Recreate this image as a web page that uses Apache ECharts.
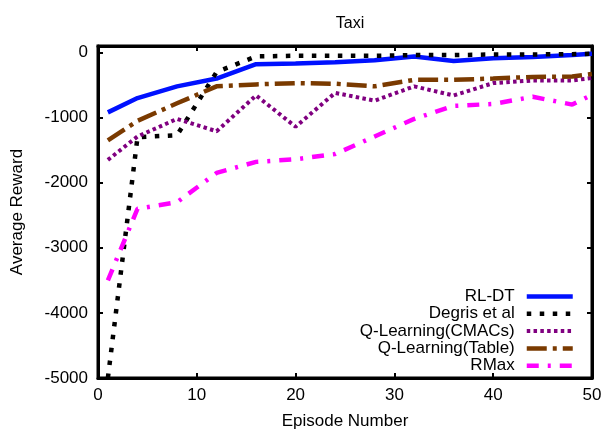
<!DOCTYPE html>
<html>
<head>
<meta charset="utf-8">
<script src="https://cdn.jsdelivr.net/npm/echarts@6/dist/echarts.min.js"></script>
<style>
  html, body { margin: 0; padding: 0; background: #fff; }
  #chart { width: 602px; height: 430px; }
</style>
</head>
<body>
<div id="chart"></div>
<script>
// episode numbers where each run was sampled
var episodes = [1, 4, 8, 12, 16, 20, 24, 28, 32, 36, 40, 44, 48, 50];

var rlDT      = [-920, -700, -520, -400, -180, -170, -150, -120, -60, -130, -90, -70, -40, -20];
var degris    = [-5000, -1300, -1270, -300, -60, -50, -50, -50, -40, -40, -30, -30, -25, -20];
var qCMACs    = [-1650, -1290, -1020, -1210, -660, -1140, -620, -740, -520, -660, -470, -430, -430, -390];
var qTable    = [-1350, -1050, -780, -520, -490, -470, -480, -520, -420, -420, -400, -375, -370, -330];
var rMax      = [-3500, -2400, -2300, -1850, -1680, -1640, -1560, -1290, -1020, -820, -790, -680, -800, -650];

var seriesNames = ["RL-DT", "Degris et al", "Q-Learning(CMACs)", "Q-Learning(Table)", "RMax"];
var xTicks = [0, 10, 20, 30, 40, 50];
var yTicks = [-5000, -4000, -3000, -2000, -1000, 0];

var FONT = "Liberation Sans";

function pairs(ys) {
    return episodes.map(function (x, i) { return [x, ys[i]]; });
}

var chart = echarts.init(document.getElementById("chart"));

var axisCommon = {
    type: "value",
    axisLine: { show: true, onZero: false, lineStyle: { color: "#000", width: 3 } },
    axisTick: { show: true, inside: true, length: 5, lineStyle: { color: "#000", width: 2 } },
    splitLine: { show: false }
};

var option = {
    animation: false,
    backgroundColor: "#fff",
    title: {
        text: "Taxi",
        left: 345,
        top: 11,
        textAlign: "center",
        textStyle: { fontFamily: FONT, fontSize: 16, fontWeight: "normal", color: "#000" }
    },
    grid: {
        left: 98, right: 10, top: 46, bottom: 52,
        show: true, borderColor: "#000", borderWidth: 3,
        containLabel: false,
        outerBoundsMode: "none"
    },
    legend: {
        orient: "vertical",
        right: 22,
        top: 283,
        align: "right",
        itemWidth: 46,
        itemHeight: 10,
        itemGap: 0.3,
        itemStyle: { opacity: 0 },
        lineStyle: { width: "inherit" },
        textStyle: { fontFamily: FONT, fontSize: 17, color: "#000", padding: [0, 7, 0, 0] },
        data: seriesNames
    },
    xAxis: [
        Object.assign({}, axisCommon, {
            position: "bottom",
            min: xTicks[0], max: xTicks[xTicks.length - 1], interval: 10,
            name: "Episode Number",
            nameLocation: "middle",
            nameGap: 35,
            nameTextStyle: { fontFamily: FONT, fontSize: 17, color: "#000" },
            axisLabel: { fontFamily: FONT, fontSize: 17, color: "#000", margin: 9 }
        }),
        Object.assign({}, axisCommon, {
            position: "top",
            min: xTicks[0], max: xTicks[xTicks.length - 1], interval: 10,
            axisLabel: { show: false }
        })
    ],
    yAxis: [
        Object.assign({}, axisCommon, {
            position: "left",
            min: yTicks[0], max: 100, interval: 1000,
            name: "Average Reward",
            nameLocation: "middle",
            nameGap: 72,
            nameTextStyle: { fontFamily: FONT, fontSize: 17, color: "#000" },
            axisLabel: {
                fontFamily: FONT, fontSize: 17, color: "#000", margin: 10,
                formatter: function (v) { return yTicks.indexOf(v) >= 0 ? String(v) : ""; }
            }
        }),
        Object.assign({}, axisCommon, {
            position: "right",
            min: yTicks[0], max: 100, interval: 1000,
            axisLabel: { show: false }
        })
    ],
    series: [
        {
            name: seriesNames[0], type: "line", data: pairs(rlDT),
            symbol: "none", clip: true,
            lineStyle: { color: "#0011ff", width: 4.5, type: "solid" },
            itemStyle: { color: "#0011ff" }
        },
        {
            name: seriesNames[1], type: "line", data: pairs(degris),
            symbol: "none", clip: true,
            lineStyle: { color: "#000", width: 4.5, type: [4.5, 8.5] },
            itemStyle: { color: "#000" }
        },
        {
            name: seriesNames[2], type: "line", data: pairs(qCMACs),
            symbol: "none", clip: true,
            lineStyle: { color: "#800080", width: 4, type: [3.5, 3.3] },
            itemStyle: { color: "#800080" }
        },
        {
            name: seriesNames[3], type: "line", data: pairs(qTable),
            symbol: "none", clip: true,
            lineStyle: { color: "#7a3a00", width: 4.5, type: [20, 6, 4, 6] },
            itemStyle: { color: "#7a3a00" }
        },
        {
            name: seriesNames[4], type: "line", data: pairs(rMax),
            symbol: "none", clip: true,
            lineStyle: { color: "#ff00ff", width: 4.5, type: [12, 9, 3, 9] },
            itemStyle: { color: "#ff00ff" }
        }
    ]
};

chart.setOption(option);
</script>
</body>
</html>
